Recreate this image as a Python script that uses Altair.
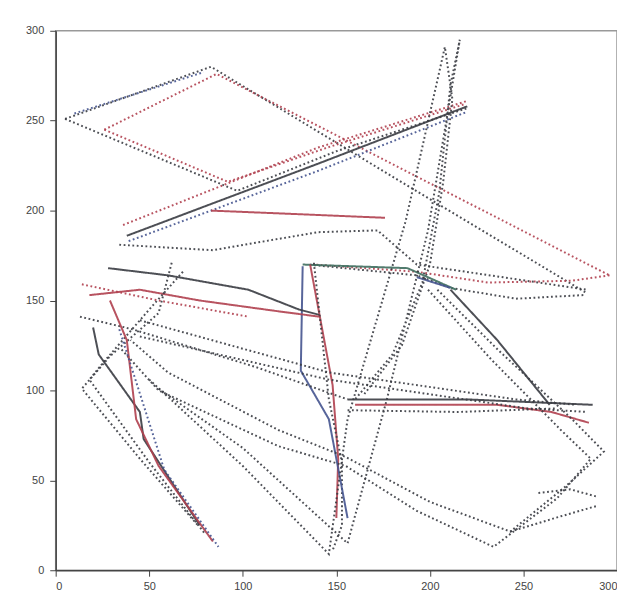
import altair as alt
import pandas as pd

# ---- stroke data (data units) ----
# top diamond
S01_X = [5, 83, 183, 284];            S01_Y = [251, 280, 217, 154]
S02_X = [26, 86, 296];                S02_Y = [245, 276, 164]
S03_X = [10, 79];                     S03_Y = [254, 277]
S04_X = [5, 97, 150, 220];            S04_Y = [251, 211, 233, 257]
S05_X = [26, 92, 145, 218];           S05_Y = [245, 216, 235, 259]
# rising bundle
S06_X = [36, 140, 220];               S06_Y = [192, 235, 261]
S07_X = [38, 140, 220];               S07_Y = [186, 226, 258]
S08_X = [39, 140, 220];               S08_Y = [183, 222, 255]
S09_X = [34, 84, 140, 172, 193, 284]; S09_Y = [181, 178, 188, 189, 170, 156]
S10_X = [83, 130, 176];               S10_Y = [200, 198, 196]
# middle horizontal group
S12_X = [296, 276, 231, 193, 138];    S12_Y = [164, 161, 160, 166, 170]
S13_X = [282, 246, 211, 193, 135];    S13_Y = [153, 151, 157, 164, 170]
S14_X = [132, 188, 214];              S14_Y = [170, 168, 156]
S15_X = [193, 211];                   S15_Y = [163, 157]
# vertical group
S16_X = [136, 148, 151, 150];         S16_Y = [170, 103, 62, 29]
S17_X = [138, 146, 153, 153, 148];    S17_Y = [171, 95, 60, 25, 11]
S18_X = [132, 131, 146, 156];         S18_Y = [169, 111, 84, 29]
# long loops through the bottom and top apexes
S20_X = [50, 100, 146, 156, 187, 208, 212, 207, 200, 185, 165]
S20_Y = [106, 58, 9, 84, 194, 291, 262, 215, 170, 125, 98]
S21_X = [55, 100, 156, 177, 199, 216, 211, 205, 196, 180, 160]
S21_Y = [101, 68, 15, 95, 189, 295, 270, 210, 160, 120, 95]
# lower horizontal group
S24_X = [156, 220, 287];              S24_Y = [95, 95, 92]
S25_X = [160, 236, 265, 285];         S25_Y = [92, 92, 88, 82]
S26_X = [156, 215, 268];              S26_Y = [89, 88, 90]
S28_X = [45, 146, 246, 278];          S28_Y = [139, 110, 95, 92]
S29_X = [45, 146, 252, 284];          S29_Y = [130, 106, 90, 88]
# right side descending loops
S30_X = [211, 236, 264];              S30_Y = [156, 128, 92]
S31_X = [204, 236, 276, 293, 273, 243, 200, 155, 119, 60, 40]
S31_Y = [156, 123, 84, 66, 47, 21.5, 38, 63, 78, 110, 128]
S32_X = [199, 233, 270, 286, 268, 234, 193, 155, 119, 55, 35]
S32_Y = [156, 117, 78, 62, 40, 13, 33, 58, 69, 100, 123]
S33_X = [243, 270, 290];              S33_Y = [21.5, 30, 36]
S34_X = [258, 275, 289];              S34_Y = [43, 45, 41]
# left cluster
S35_X = [28, 60, 103, 130, 141];      S35_Y = [168, 164, 156, 145, 142]
S36_X = [18, 45, 77, 119, 141];       S36_Y = [153, 156, 150, 144, 141]
S37_X = [14, 55, 103];                S37_Y = [159, 150, 141]
S38_X = [13, 41, 107, 156];           S38_Y = [141, 134, 113, 95]
S39_X = [62, 55, 29, 14, 45, 76];     S39_Y = [171, 143, 119, 101, 62, 25]
S40_X = [68, 50, 25, 18, 50, 80];     S40_Y = [166, 145, 115, 106, 60, 20]
S41_X = [20, 23, 45, 47, 77];         S41_Y = [135, 120, 88, 73, 25]
S42_X = [29, 38, 43, 55, 84];         S42_Y = [150, 128, 84, 58, 16]
S43_X = [34, 58, 87];                 S43_Y = [134, 56, 13]

STROKES = [
    ("dark", "dot", S01_X, S01_Y), ("red", "dot", S02_X, S02_Y),
    ("blue", "dot", S03_X, S03_Y), ("dark", "dot", S04_X, S04_Y),
    ("red", "dot", S05_X, S05_Y), ("red", "dot", S06_X, S06_Y),
    ("dark", "solid", S07_X, S07_Y), ("blue", "dot", S08_X, S08_Y),
    ("dark", "dot", S09_X, S09_Y), ("red", "solid", S10_X, S10_Y),
    ("red", "dot", S12_X, S12_Y), ("dark", "dot", S13_X, S13_Y),
    ("green", "solid", S14_X, S14_Y), ("blue", "solid", S15_X, S15_Y),
    ("red", "solid", S16_X, S16_Y), ("dark", "dot", S17_X, S17_Y),
    ("blue", "solid", S18_X, S18_Y), ("dark", "dot", S20_X, S20_Y),
    ("dark", "dot", S21_X, S21_Y), ("dark", "solid", S24_X, S24_Y),
    ("red", "solid", S25_X, S25_Y), ("dark", "dot", S26_X, S26_Y),
    ("dark", "dot", S28_X, S28_Y), ("dark", "dot", S29_X, S29_Y),
    ("dark", "solid", S30_X, S30_Y), ("dark", "dot", S31_X, S31_Y),
    ("dark", "dot", S32_X, S32_Y), ("dark", "dot", S33_X, S33_Y),
    ("dark", "dot", S34_X, S34_Y), ("dark", "solid", S35_X, S35_Y),
    ("red", "solid", S36_X, S36_Y), ("red", "dot", S37_X, S37_Y),
    ("dark", "dot", S38_X, S38_Y), ("dark", "dot", S39_X, S39_Y),
    ("dark", "dot", S40_X, S40_Y), ("dark", "solid", S41_X, S41_Y),
    ("red", "solid", S42_X, S42_Y), ("blue", "dot", S43_X, S43_Y),
]

TICKS = [0, 50, 100, 150, 200, 250, 300]

rows = []
for sid, (col, sty, xs, ys) in enumerate(STROKES):
    for i, (x, y) in enumerate(zip(xs, ys)):
        rows.append({"sid": sid, "ord": i, "x": x, "y": y, "col": col, "sty": sty})
df = pd.DataFrame(rows)

axis_common = dict(
    values=TICKS, title=None, grid=False, domainColor="#444", domainWidth=1.5,
    tickColor="#444", tickSize=6, labelColor="#444", labelFont="Liberation Sans",
    labelFontSize=11,
)

chart = alt.Chart(df).mark_line(strokeWidth=2, opacity=0.9).encode(
    x=alt.X("x:Q", scale=alt.Scale(domain=[0, 300], nice=False, zero=False),
            axis=alt.Axis(labelPadding=4, **axis_common)),
    y=alt.Y("y:Q", scale=alt.Scale(domain=[0, 300], nice=False, zero=False),
            axis=alt.Axis(labelPadding=6, **axis_common)),
    detail="sid:N",
    order="ord:Q",
    color=alt.Color("col:N", scale=alt.Scale(domain=["dark", "red", "blue", "green"],
                                             range=["#3a3c42", "#b0404f", "#45548f", "#3e6e5e"]),
                    legend=None),
    strokeDash=alt.StrokeDash("sty:N", scale=alt.Scale(domain=["dot", "solid"],
                                                         range=[[1.8, 2.6], [1, 0]]),
                              legend=None),
).properties(
    width=565, height=543,
    autosize=alt.AutoSizeParams(type="none"),
    padding={"left": 48, "top": 21, "right": 0, "bottom": 24},
).configure_view(stroke="#999", strokeWidth=1.5)

chart.save("out.html", embed_options={"renderer": "svg", "actions": False})
